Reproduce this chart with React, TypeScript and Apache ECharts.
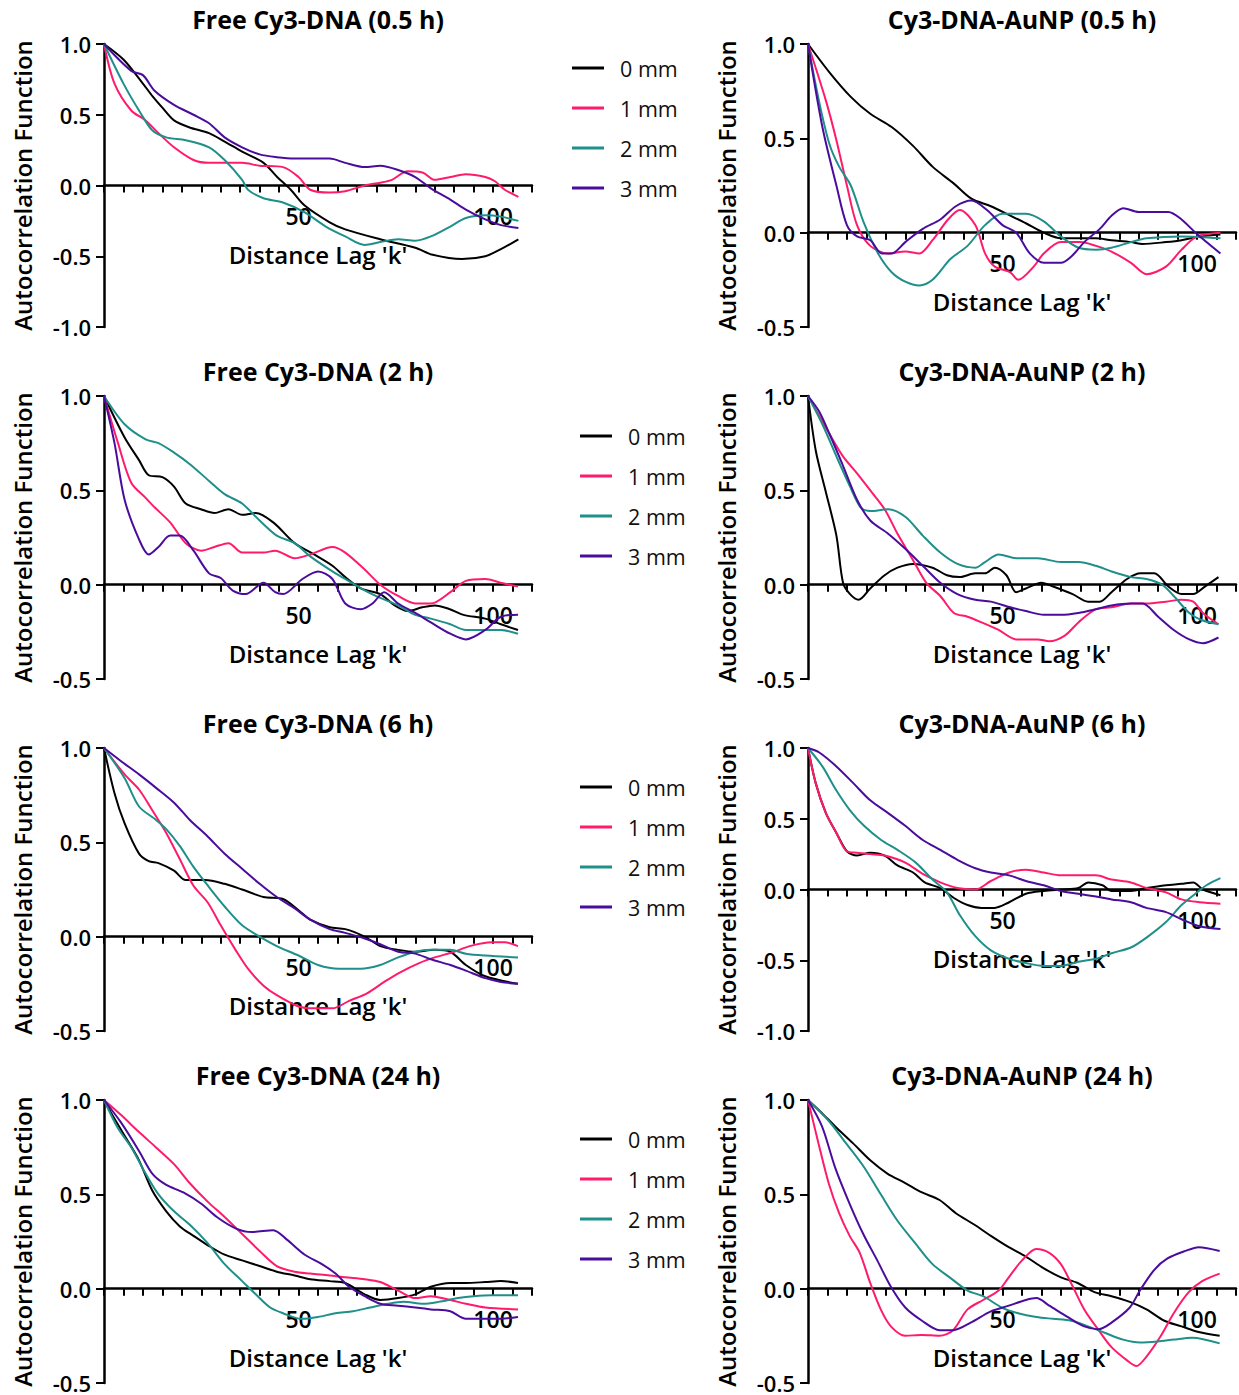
import React, { useEffect, useRef } from "react";
import * as echarts from "echarts";

type Pt = [number, number];

// Shared axis settings
const LAG_MAX = 110;
const LAG_STEP = 5;
const LAG_LABELS = [50, 100];
const LAG_NAME = "Distance Lag 'k'";
const ACF_NAME = "Autocorrelation Function";
const Y_MAX = 1;
const Y_STEP = 0.5;

const SERIES_NAMES = ["0 mm", "1 mm", "2 mm", "3 mm"];
const COLORS = ["#000000", "#ff1a6c", "#1f8f8a", "#4a0c9c"];

const TITLES = [
  "Free Cy3-DNA (0.5 h)",
  "Cy3-DNA-AuNP (0.5 h)",
  "Free Cy3-DNA (2 h)",
  "Cy3-DNA-AuNP (2 h)",
  "Free Cy3-DNA (6 h)",
  "Cy3-DNA-AuNP (6 h)",
  "Free Cy3-DNA (24 h)",
  "Cy3-DNA-AuNP (24 h)",
];
const Y_MIN = [-1, -0.5, -0.5, -0.5, -0.5, -1, -0.5, -0.5];

// ---- Free Cy3-DNA, 0.5 h ----
const free05_0: Pt[] = [[0,1],[5,0.89],[10,0.72],[12.5,0.63],[15,0.55],[18,0.46],[22,0.41],[27,0.37],[31,0.31],[35.5,0.24],[41,0.16],[44.5,0.06],[48,-0.03],[51.5,-0.14],[58,-0.26],[62,-0.31],[71,-0.38],[80,-0.44],[84.5,-0.49],[92,-0.52],[98,-0.5],[102,-0.45],[106.5,-0.38]];
const free05_1: Pt[] = [[0,1],[2.7,0.72],[7,0.53],[10.7,0.46],[14,0.37],[18,0.27],[23,0.18],[27,0.16],[31,0.16],[35.5,0.16],[40,0.14],[46,0.13],[50,0.06],[53,-0.03],[58,-0.05],[62,-0.04],[67,0],[71,0.02],[74,0.04],[78,0.1],[82,0.09],[85,0.04],[89,0.06],[93,0.08],[98,0.06],[100.5,0.03],[103,-0.03],[106.5,-0.08]];
const free05_2: Pt[] = [[0,1],[5,0.72],[9,0.53],[12.4,0.39],[16,0.34],[21,0.32],[27,0.27],[31,0.18],[35.5,0.04],[37,-0.03],[41,-0.09],[46,-0.12],[51.6,-0.19],[57,-0.29],[62,-0.36],[67,-0.42],[71,-0.4],[75.6,-0.38],[80,-0.39],[84,-0.36],[89,-0.29],[93,-0.23],[98,-0.21],[102,-0.22],[106.5,-0.25]];
const free05_3: Pt[] = [[0,1],[7,0.81],[10,0.78],[13,0.67],[18,0.57],[23,0.5],[27,0.44],[31,0.34],[35.5,0.27],[40,0.22],[44.4,0.2],[49,0.19],[53,0.19],[58,0.19],[62,0.16],[67,0.13],[71,0.14],[75.6,0.11],[80,0.06],[84,-0.02],[89,-0.1],[93,-0.17],[98,-0.24],[102,-0.28],[106.5,-0.3]];

// ---- Cy3-DNA-AuNP, 0.5 h ----
const aunp05_0: Pt[] = [[0,1],[5.5,0.85],[11,0.72],[16,0.63],[21.5,0.56],[27,0.46],[32,0.35],[37.5,0.26],[42,0.18],[47,0.14],[52,0.09],[56,0.05],[60.6,0],[65,-0.03],[70,-0.03],[74,-0.03],[78,-0.04],[83,-0.05],[86,-0.06],[92,-0.05],[96,-0.04],[100.6,-0.02],[106,-0.01]];
const aunp05_1: Pt[] = [[0,1],[4.6,0.7],[7.3,0.49],[10,0.25],[12.6,0.04],[16,-0.07],[20.6,-0.11],[25,-0.1],[28.6,-0.11],[32,-0.04],[36,0.07],[39,0.12],[43,0.04],[45.5,-0.11],[48,-0.18],[52,-0.21],[54,-0.25],[58,-0.18],[60.6,-0.11],[65,-0.05],[70,-0.05],[74,-0.07],[78,-0.1],[83,-0.16],[87,-0.22],[92,-0.18],[96,-0.09],[100,-0.02],[106,0]];
const aunp05_2: Pt[] = [[0,1],[2.8,0.7],[5.5,0.47],[8,0.35],[11,0.25],[14.4,0.05],[18,-0.11],[21.5,-0.21],[25,-0.26],[28.6,-0.28],[32,-0.25],[36.6,-0.14],[41,-0.07],[45.5,0.04],[50,0.1],[56,0.1],[60.6,0.06],[65,-0.02],[69.5,-0.08],[74,-0.09],[78,-0.08],[83,-0.05],[87,-0.03],[96,-0.02],[106,-0.03]];
const aunp05_3: Pt[] = [[0,1],[3.7,0.56],[7.3,0.25],[10,0.04],[12.6,-0.02],[16,-0.04],[19,-0.11],[21.5,-0.11],[25,-0.05],[29.5,0.02],[34,0.07],[38,0.14],[42,0.17],[46,0.12],[50,0.04],[53.5,0],[57,-0.11],[60.6,-0.16],[65,-0.16],[68,-0.12],[71,-0.05],[75,0.02],[78,0.09],[81,0.13],[85,0.11],[92.6,0.11],[96,0.07],[99.6,0],[106,-0.11]];

// ---- Free Cy3-DNA, 2 h ----
const free2_0: Pt[] = [[0,1],[5.3,0.78],[9,0.66],[11.5,0.58],[15,0.57],[18,0.52],[21,0.43],[24.9,0.4],[28.4,0.38],[32,0.4],[35.5,0.37],[39,0.38],[43.5,0.33],[49,0.22],[54,0.16],[58.7,0.1],[62,0.04],[66,-0.02],[71,-0.05],[74.7,-0.11],[78,-0.14],[81.8,-0.12],[85,-0.11],[88.9,-0.13],[92.4,-0.16],[98,-0.18],[102,-0.21],[106.4,-0.24]];
const free2_1: Pt[] = [[0,1],[3.6,0.75],[7,0.54],[10.7,0.46],[13,0.41],[17,0.33],[21,0.22],[25,0.18],[28.4,0.2],[32,0.22],[35.5,0.17],[41,0.17],[44,0.18],[49,0.14],[53,0.16],[58.7,0.2],[62,0.17],[67,0.08],[71,0],[75.6,-0.06],[80,-0.1],[84,-0.1],[89,-0.04],[93,0.02],[98,0.03],[102,0.01],[106.4,-0.01]];
const free2_2: Pt[] = [[0,1],[5.3,0.85],[10.7,0.77],[14,0.75],[18,0.7],[22,0.64],[27,0.55],[31,0.48],[35.5,0.43],[40,0.34],[44.4,0.26],[49,0.22],[53,0.15],[58,0.08],[62,0.03],[67,-0.03],[71,-0.07],[75.6,-0.11],[80,-0.16],[84,-0.18],[89,-0.21],[93,-0.24],[98,-0.24],[102,-0.24],[106.4,-0.26]];
const free2_3: Pt[] = [[0,1],[2.7,0.75],[5.3,0.45],[9,0.24],[11.5,0.16],[14,0.2],[17,0.26],[19.5,0.26],[23,0.18],[27,0.06],[30,0.035],[33,-0.03],[36.4,-0.05],[41,0.01],[44,-0.04],[46,-0.05],[51,0.03],[55,0.07],[58.7,0.03],[62,-0.1],[66,-0.13],[69,-0.1],[72,-0.04],[75.6,-0.1],[80,-0.15],[84,-0.2],[89,-0.26],[93,-0.29],[98,-0.24],[102,-0.17],[106.4,-0.16]];

// ---- Cy3-DNA-AuNP, 2 h ----
const aunp2_0: Pt[] = [[0,1],[2,0.71],[4.6,0.49],[7.3,0.26],[9,0.01],[10.8,-0.05],[13,-0.08],[16,-0.02],[19.7,0.05],[23,0.09],[27,0.11],[32,0.09],[35.7,0.05],[39,0.04],[43,0.06],[45.5,0.06],[48,0.09],[51,0.05],[53.5,-0.04],[56,-0.02],[60,0.01],[63,-0.01],[68,-0.05],[72,-0.09],[75,-0.09],[78,-0.04],[82,0.03],[85.5,0.06],[89,0.06],[92.6,-0.01],[96,-0.05],[99,-0.05],[102,-0.01],[105.5,0.04]];
const aunp2_1: Pt[] = [[0,1],[5.5,0.8],[9,0.68],[12.6,0.59],[16,0.5],[19.7,0.4],[23,0.27],[27,0.13],[30.4,0.01],[34,-0.06],[37.5,-0.15],[41,-0.17],[44.6,-0.2],[49,-0.24],[53.5,-0.29],[59,-0.29],[62,-0.3],[66,-0.27],[69.5,-0.2],[74,-0.13],[78,-0.12],[83,-0.1],[87,-0.1],[92,-0.09],[96,-0.08],[99,-0.09],[101.5,-0.15],[105.5,-0.21]];
const aunp2_2: Pt[] = [[0,1],[3.7,0.85],[7.3,0.68],[10.8,0.52],[13.5,0.41],[16,0.39],[20.6,0.4],[25,0.36],[29.5,0.26],[34,0.17],[38.4,0.11],[43,0.09],[45.5,0.12],[49,0.16],[53.5,0.14],[59,0.14],[65,0.12],[69.5,0.12],[74,0.1],[78,0.07],[83,0.04],[87,0.03],[91,0],[94,-0.06],[98,-0.15],[101.5,-0.19],[105.5,-0.21]];
const aunp2_3: Pt[] = [[0,1],[2.8,0.92],[5.5,0.8],[9,0.63],[12.6,0.45],[16,0.34],[20.6,0.27],[25,0.19],[29.5,0.1],[34,0.01],[38.4,-0.05],[43,-0.08],[47,-0.09],[52,-0.12],[56,-0.14],[60.6,-0.16],[65,-0.16],[69.5,-0.15],[74,-0.13],[78,-0.11],[83,-0.1],[86,-0.1],[90,-0.17],[94,-0.24],[98,-0.29],[101.5,-0.31],[105.5,-0.28]];

// ---- Free Cy3-DNA, 6 h ----
const free6_0: Pt[] = [[0,1],[2.7,0.76],[5.3,0.6],[9,0.44],[11.5,0.4],[14,0.39],[18,0.35],[21,0.3],[26,0.3],[31,0.28],[35.5,0.25],[41,0.21],[46,0.2],[50,0.14],[53,0.09],[58,0.05],[62,0.04],[67,0],[71,-0.05],[75.6,-0.07],[80,-0.08],[85,-0.07],[89,-0.08],[93,-0.15],[98,-0.21],[106.4,-0.25]];
const free6_1: Pt[] = [[0,1],[5.3,0.86],[9,0.78],[12.4,0.67],[16,0.55],[19.5,0.41],[23,0.27],[26.7,0.18],[30,0.06],[33.8,-0.07],[37,-0.17],[41,-0.26],[44.4,-0.31],[50,-0.37],[54,-0.38],[58.7,-0.38],[63,-0.34],[67.6,-0.3],[72,-0.24],[76,-0.19],[81,-0.14],[85,-0.11],[90,-0.08],[94,-0.05],[99.6,-0.03],[103,-0.03],[106.4,-0.05]];
const free6_2: Pt[] = [[0,1],[5.3,0.84],[9,0.69],[13.3,0.62],[16,0.57],[19.5,0.48],[23,0.37],[26.7,0.27],[31,0.16],[35.5,0.06],[40,0],[44.4,-0.05],[50,-0.1],[55,-0.15],[60.4,-0.17],[66,-0.17],[71,-0.15],[75.6,-0.11],[80,-0.08],[84,-0.07],[89,-0.07],[93,-0.09],[98,-0.1],[106.4,-0.11]];
const free6_3: Pt[] = [[0,1],[4.4,0.93],[9,0.86],[13.3,0.79],[18,0.71],[22,0.62],[26.7,0.53],[31,0.44],[35.5,0.36],[40,0.28],[44.4,0.21],[49,0.15],[53,0.09],[58,0.04],[62,0.02],[67,-0.01],[71,-0.04],[75.6,-0.08],[80,-0.09],[84,-0.12],[89,-0.15],[93,-0.18],[98,-0.22],[102,-0.24],[106.4,-0.25]];

// ---- Cy3-DNA-AuNP, 6 h ----
const aunp6_0: Pt[] = [[0,1],[2,0.75],[4.6,0.54],[7.3,0.4],[10,0.27],[12.6,0.24],[16,0.26],[19.7,0.24],[23,0.17],[27,0.12],[30,0.05],[34,0.01],[37.5,-0.06],[41,-0.11],[44.6,-0.13],[48,-0.13],[51.7,-0.09],[56,-0.03],[60.6,-0.01],[65,0],[69.5,0.01],[72,0.05],[75.7,0.03],[78,-0.01],[83,-0.01],[87,0.01],[92,0.03],[96,0.04],[99,0.05],[101.5,0],[106,-0.04]];
const aunp6_1: Pt[] = [[0,1],[2,0.75],[4.6,0.54],[7.3,0.4],[10,0.27],[12.6,0.26],[16,0.25],[19.7,0.24],[25,0.19],[29.5,0.11],[34,0.05],[38.4,0.01],[43,0],[47,0.06],[51.7,0.12],[56,0.14],[60.6,0.12],[65,0.1],[69.5,0.1],[74,0.1],[78,0.07],[83,0.05],[87,0.01],[92,-0.02],[96,-0.07],[100.6,-0.09],[106,-0.1]];
const aunp6_2: Pt[] = [[0,1],[3.7,0.87],[7.3,0.7],[10.8,0.56],[14.4,0.45],[18.8,0.35],[23,0.28],[27.7,0.19],[32,0.07],[35.7,-0.02],[39,-0.18],[43,-0.33],[47,-0.43],[51.7,-0.49],[56,-0.52],[60.6,-0.54],[65,-0.54],[69.5,-0.51],[74,-0.49],[78,-0.45],[83,-0.41],[87,-0.34],[92,-0.23],[96,-0.11],[100,-0.02],[102.4,0.03],[106,0.08]];
const aunp6_3: Pt[] = [[0,1],[2.8,0.97],[7.3,0.87],[11.7,0.75],[16,0.63],[20.6,0.54],[25,0.45],[29.5,0.35],[34,0.28],[38.4,0.21],[43,0.15],[47,0.12],[51.7,0.1],[56,0.06],[60.6,0.03],[65,-0.01],[69.5,-0.03],[74,-0.05],[78,-0.07],[83,-0.09],[87,-0.13],[92,-0.16],[96,-0.21],[100.6,-0.26],[106,-0.28]];

// ---- Free Cy3-DNA, 24 h ----
const free24_0: Pt[] = [[0,1],[2.7,0.9],[6.2,0.78],[9,0.68],[12.4,0.52],[16,0.41],[19.5,0.33],[23,0.28],[26.7,0.23],[31,0.18],[35.5,0.15],[40,0.12],[44.4,0.09],[49,0.07],[53,0.05],[58,0.04],[62,0.03],[67,-0.03],[71,-0.06],[75.6,-0.05],[80,-0.03],[84,0.01],[89,0.03],[93,0.03],[98,0.035],[102,0.04],[106.4,0.03]];
const free24_1: Pt[] = [[0,1],[4.4,0.92],[9,0.83],[13.3,0.75],[18,0.66],[22,0.56],[26.7,0.46],[31,0.38],[35.5,0.29],[40,0.2],[44.4,0.12],[49,0.09],[53,0.08],[58,0.07],[62,0.06],[67,0.05],[71,0.035],[75.6,-0.01],[80,-0.05],[84,-0.04],[89,-0.06],[93,-0.08],[98,-0.1],[106.4,-0.11]];
const free24_2: Pt[] = [[0,1],[3.6,0.85],[7,0.75],[10.7,0.61],[14,0.5],[18,0.41],[22,0.34],[26.7,0.24],[31,0.13],[35.5,0.04],[39,-0.03],[42.7,-0.1],[46,-0.13],[50.7,-0.16],[55,-0.15],[59.5,-0.13],[64,-0.12],[68.4,-0.1],[73,-0.08],[77,-0.07],[82,-0.08],[86,-0.07],[91,-0.05],[95,-0.04],[99.6,-0.035],[106.4,-0.035]];
const free24_3: Pt[] = [[0,1],[4.4,0.88],[9,0.73],[12.4,0.61],[16,0.55],[20.4,0.51],[25,0.45],[29,0.38],[33.8,0.32],[38,0.3],[43.5,0.31],[47,0.26],[51.6,0.18],[56,0.13],[59.5,0.08],[63,0.01],[67,-0.04],[71,-0.08],[75.6,-0.09],[80,-0.1],[84,-0.11],[89,-0.12],[93,-0.16],[98,-0.16],[102,-0.16],[106.4,-0.15]];

// ---- Cy3-DNA-AuNP, 24 h ----
const aunp24_0: Pt[] = [[0,1],[3.6,0.93],[7,0.86],[11.6,0.77],[16,0.68],[20.4,0.61],[25,0.56],[29.3,0.51],[33.8,0.47],[38,0.4],[42.7,0.34],[47,0.28],[51.6,0.22],[56,0.17],[60.4,0.11],[65,0.06],[69.3,0.03],[73.8,-0.02],[78,-0.04],[82.7,-0.07],[87,-0.11],[91.6,-0.17],[96,-0.2],[100.4,-0.23],[105.8,-0.25]];
const aunp24_1: Pt[] = [[0,1],[2.7,0.77],[5.3,0.56],[8,0.4],[10.7,0.28],[13.3,0.19],[16,0.03],[18.7,-0.11],[21.3,-0.2],[25,-0.25],[29.3,-0.245],[33.8,-0.25],[37.3,-0.22],[41,-0.11],[45,-0.06],[49,-0.01],[51.6,0.06],[55,0.15],[58.7,0.21],[62,0.19],[65,0.13],[67.6,0.03],[71,-0.11],[74.7,-0.22],[78,-0.31],[82,-0.38],[84.4,-0.41],[87,-0.36],[90.7,-0.25],[94,-0.13],[97.8,-0.02],[101.3,0.04],[105.8,0.08]];
const aunp24_2: Pt[] = [[0,1],[5.3,0.89],[9.8,0.77],[14.2,0.65],[18.7,0.5],[23,0.36],[27.6,0.24],[32,0.13],[36.4,0.06],[41,-0.01],[45,-0.04],[49.8,-0.1],[54,-0.13],[58.7,-0.15],[63,-0.16],[67.6,-0.17],[72,-0.2],[76.4,-0.235],[81,-0.27],[85.3,-0.285],[89.8,-0.28],[94,-0.27],[98.7,-0.26],[105.8,-0.29]];
const aunp24_3: Pt[] = [[0,1],[3.6,0.86],[7,0.64],[10.7,0.45],[14.2,0.29],[17.8,0.15],[21.3,0.01],[25,-0.1],[29.3,-0.17],[33.8,-0.22],[37.3,-0.22],[41.8,-0.18],[47,-0.12],[51.6,-0.09],[56,-0.06],[58.7,-0.05],[62,-0.09],[66.7,-0.15],[71,-0.2],[74.7,-0.215],[78,-0.18],[82.7,-0.1],[85.3,-0.01],[89,0.1],[92.4,0.16],[97,0.2],[100.4,0.22],[105.8,0.2]];

const PANEL_DATA: Pt[][][] = [
  [free05_0, free05_1, free05_2, free05_3],
  [aunp05_0, aunp05_1, aunp05_2, aunp05_3],
  [free2_0, free2_1, free2_2, free2_3],
  [aunp2_0, aunp2_1, aunp2_2, aunp2_3],
  [free6_0, free6_1, free6_2, free6_3],
  [aunp6_0, aunp6_1, aunp6_2, aunp6_3],
  [free24_0, free24_1, free24_2, free24_3],
  [aunp24_0, aunp24_1, aunp24_2, aunp24_3],
];

// Page layout (pixels)
const COL_LEFT = [104, 808];
const ROW_TOP0 = 44;
const ROW_STEP = 352;
const PLOT_W = 428;
const PLOT_H = 283;
const LEGEND_X = [572, 580, 580, 580];
const LEGEND_Y = [68, 436, 787, 1139];
const LEGEND_STEP = 40;

const FONT = "'Open Sans', Lato, sans-serif";

function buildOption() {
  const grid: any[] = [];
  const xAxis: any[] = [];
  const yAxis: any[] = [];
  const series: any[] = [];
  const graphic: any[] = [];

  PANEL_DATA.forEach((lines, i) => {
    const col = i % 2;
    const row = Math.floor(i / 2);
    const left = COL_LEFT[col];
    const top = ROW_TOP0 + row * ROW_STEP;
    grid.push({ left, top, width: PLOT_W, height: PLOT_H, containLabel: false });

    // Lag axis runs along y = 0; its labels and title are placed beside it afterwards
    xAxis.push({
      type: "value",
      gridIndex: i,
      min: 0,
      max: LAG_MAX,
      interval: LAG_STEP,
      splitLine: { show: false },
      axisLine: { show: true, onZero: true, lineStyle: { color: "#000", width: 2.5 } },
      axisTick: { show: true, length: 7, lineStyle: { color: "#000", width: 2 } },
      axisLabel: { show: false },
    });

    yAxis.push({
      type: "value",
      gridIndex: i,
      min: Y_MIN[i],
      max: Y_MAX,
      interval: Y_STEP,
      splitLine: { show: false },
      axisLine: { show: true, onZero: false, lineStyle: { color: "#000", width: 2.5 } },
      axisTick: { show: true, length: 8, lineStyle: { color: "#000", width: 2 } },
      axisLabel: {
        margin: 13,
        color: "#000",
        fontFamily: FONT,
        fontWeight: 600,
        fontSize: 22,
        formatter: (v: number) => v.toFixed(1),
      },
      name: ACF_NAME,
      nameLocation: "middle",
      nameGap: 70,
      nameTextStyle: { color: "#000", fontFamily: FONT, fontWeight: 600, fontSize: 24 },
    });

    lines.forEach((data, j) => {
      series.push({
        type: "line",
        name: SERIES_NAMES[j],
        xAxisIndex: i,
        yAxisIndex: i,
        data,
        showSymbol: false,
        smooth: 0.3,
        lineStyle: { color: COLORS[j], width: 2 },
        itemStyle: { color: COLORS[j] },
        emphasis: { disabled: true },
      });
    });

    graphic.push({
      id: `title-${i}`,
      type: "text",
      x: left + PLOT_W / 2,
      y: 19 + row * ROW_STEP,
      style: {
        text: TITLES[i],
        align: "center",
        verticalAlign: "middle",
        fill: "#000",
        font: `700 25px ${FONT}`,
      },
    });
  });

  // Legends between the two columns, one per row
  LEGEND_Y.forEach((y0, r) => {
    const x0 = LEGEND_X[r];
    SERIES_NAMES.forEach((name, j) => {
      const y = y0 + j * LEGEND_STEP;
      graphic.push({
        id: `leg-line-${r}-${j}`,
        type: "line",
        shape: { x1: x0, y1: y, x2: x0 + 32, y2: y },
        style: { stroke: COLORS[j], lineWidth: 3 },
      });
      graphic.push({
        id: `leg-text-${r}-${j}`,
        type: "text",
        x: x0 + 48,
        y,
        style: {
          text: name,
          align: "left",
          verticalAlign: "middle",
          fill: "#111",
          font: `400 21.5px ${FONT}`,
        },
      });
    });
  });

  return {
    animation: false,
    backgroundColor: "#ffffff",
    tooltip: { show: false },
    grid,
    xAxis,
    yAxis,
    series,
    graphic,
  };
}

// Tick labels and title of each lag axis, placed along its y = 0 line
function lagAxisTexts(chart: echarts.ECharts) {
  const out: any[] = [];
  PANEL_DATA.forEach((_, i) => {
    LAG_LABELS.forEach((v) => {
      const p = chart.convertToPixel({ gridIndex: i }, [v, 0]) as number[];
      out.push({
        id: `lag-label-${i}-${v}`,
        type: "text",
        z: 0,
        x: p[0],
        y: p[1] + 19,
        style: { text: String(v), align: "center", verticalAlign: "top", fill: "#000", font: `600 23px ${FONT}` },
      });
    });
    const m = chart.convertToPixel({ gridIndex: i }, [LAG_MAX / 2, 0]) as number[];
    out.push({
      id: `lag-name-${i}`,
      type: "text",
      z: 0,
      x: m[0],
      y: m[1] + 57,
      style: { text: LAG_NAME, align: "center", verticalAlign: "top", fill: "#000", font: `600 24px ${FONT}` },
    });
  });
  return out;
}

export default function App() {
  const ref = useRef<HTMLDivElement>(null);
  useEffect(() => {
    if (!ref.current) return;
    const chart = echarts.init(ref.current, undefined, { renderer: "svg" });
    const option = buildOption();
    chart.setOption(option as any);
    chart.setOption({ graphic: [...option.graphic, ...lagAxisTexts(chart)] } as any);
    return () => chart.dispose();
  }, []);
  return (
    <div
      ref={ref}
      style={{ position: "absolute", left: 0, top: 0, width: 1239, height: 1395, background: "#fff" }}
    />
  );
}
